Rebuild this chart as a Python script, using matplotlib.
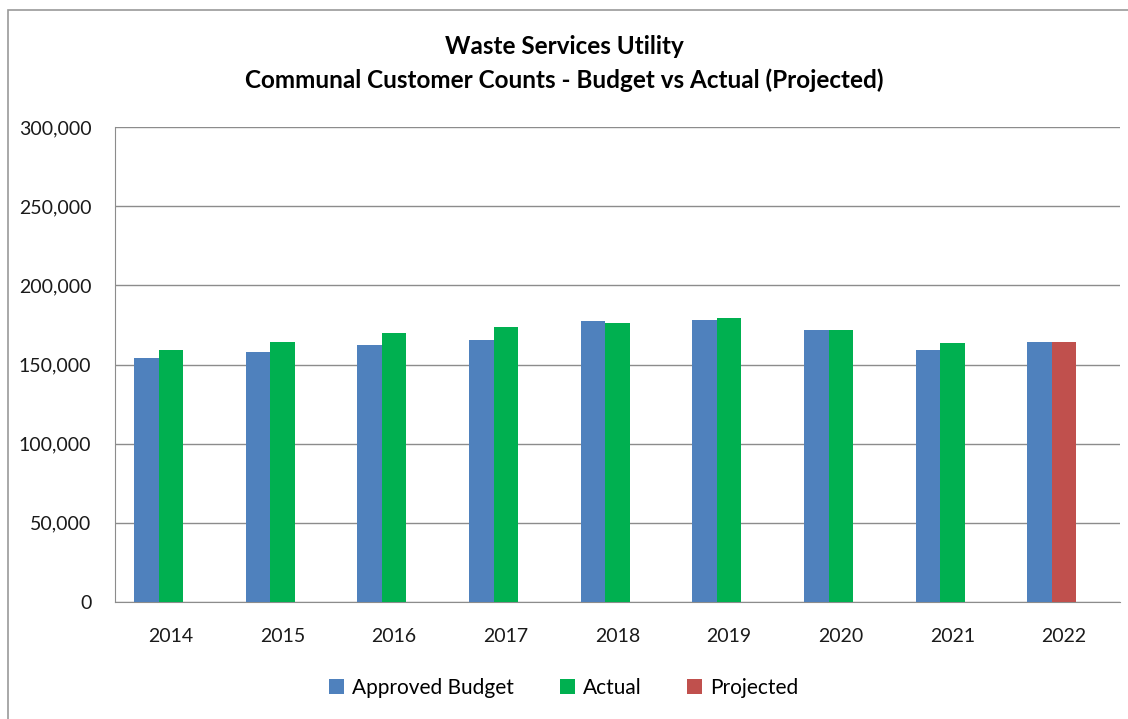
import matplotlib.pyplot as plt
import numpy as np
from matplotlib.patches import Rectangle
from matplotlib.ticker import FuncFormatter

years = ['2014', '2015', '2016', '2017', '2018', '2019', '2020', '2021', '2022']
budget = [153800, 158200, 162200, 165500, 177300, 178400, 172100, 159000, 164500]
actual = [159000, 164500, 169800, 174000, 176300, 179400, 172100, 163400, None]
projected = [None, None, None, None, None, None, None, None, 164500]

c_budget = '#4f81bd'
c_actual = '#00b050'
c_proj = '#c0504d'

plt.rcParams['font.family'] = ['Lato', 'DejaVu Sans']

fig = plt.figure(figsize=(11.28, 7.19), dpi=100)
ax = fig.add_axes([115 / 1128, 1 - 602 / 719, 1005 / 1128, 475 / 719])

x = np.arange(len(years))
w = 0.22
# bars sit a little left of the category centre, as in the spreadsheet chart
ax.bar(x - 1.5 * w, budget, w, align='edge', color=c_budget, label='Approved Budget', zorder=3)
act_x = [i for i, v in enumerate(actual) if v is not None]
ax.bar(np.array(act_x) - 0.5 * w, [actual[i] for i in act_x], w, align='edge',
       color=c_actual, label='Actual', zorder=3)
proj_x = [i for i, v in enumerate(projected) if v is not None]
ax.bar(np.array(proj_x) - 0.5 * w, [projected[i] for i in proj_x], w, align='edge',
       color=c_proj, label='Projected', zorder=3)

ax.set_xlim(-0.5, len(years) - 0.5)
ax.set_ylim(0, 300000)
ax.set_yticks(np.arange(0, 300001, 50000))
ax.yaxis.set_major_formatter(FuncFormatter(lambda v, p: f'{int(v):,}'))
ax.set_xticks(x)
ax.set_xticklabels(years)
ax.grid(axis='y', color='#8c8c8c', linewidth=1, zorder=0)
for s in ['top', 'right']:
    ax.spines[s].set_visible(False)
for s in ['left', 'bottom']:
    ax.spines[s].set_color('#8c8c8c')
ax.tick_params(axis='y', length=0, labelsize=14, pad=17, labelcolor='#1a1a1a')
ax.tick_params(axis='x', length=0, labelsize=14, pad=19, labelcolor='#1a1a1a')

fig.text(0.5, 1 - 46 / 719, 'Waste Services Utility', ha='center', va='center',
         fontsize=17.5, fontweight='bold')
fig.text(0.5, 1 - 80 / 719, 'Communal Customer Counts - Budget vs Actual (Projected)',
         ha='center', va='center', fontsize=17.5, fontweight='bold')

fig.legend(loc='center', bbox_to_anchor=(0.5, 1 - 688 / 719), ncol=3, frameon=False,
           fontsize=15, handlelength=0.7, handleheight=0.7, handletextpad=0.4,
           columnspacing=2.2)

fig.patches.append(Rectangle((8 / 1128, -0.1), 1.2, 1 - 10 / 719 + 0.1,
                             transform=fig.transFigure, fill=False,
                             edgecolor='#9a9a9a', linewidth=1.2))

fig.savefig('out.png', dpi=100)
